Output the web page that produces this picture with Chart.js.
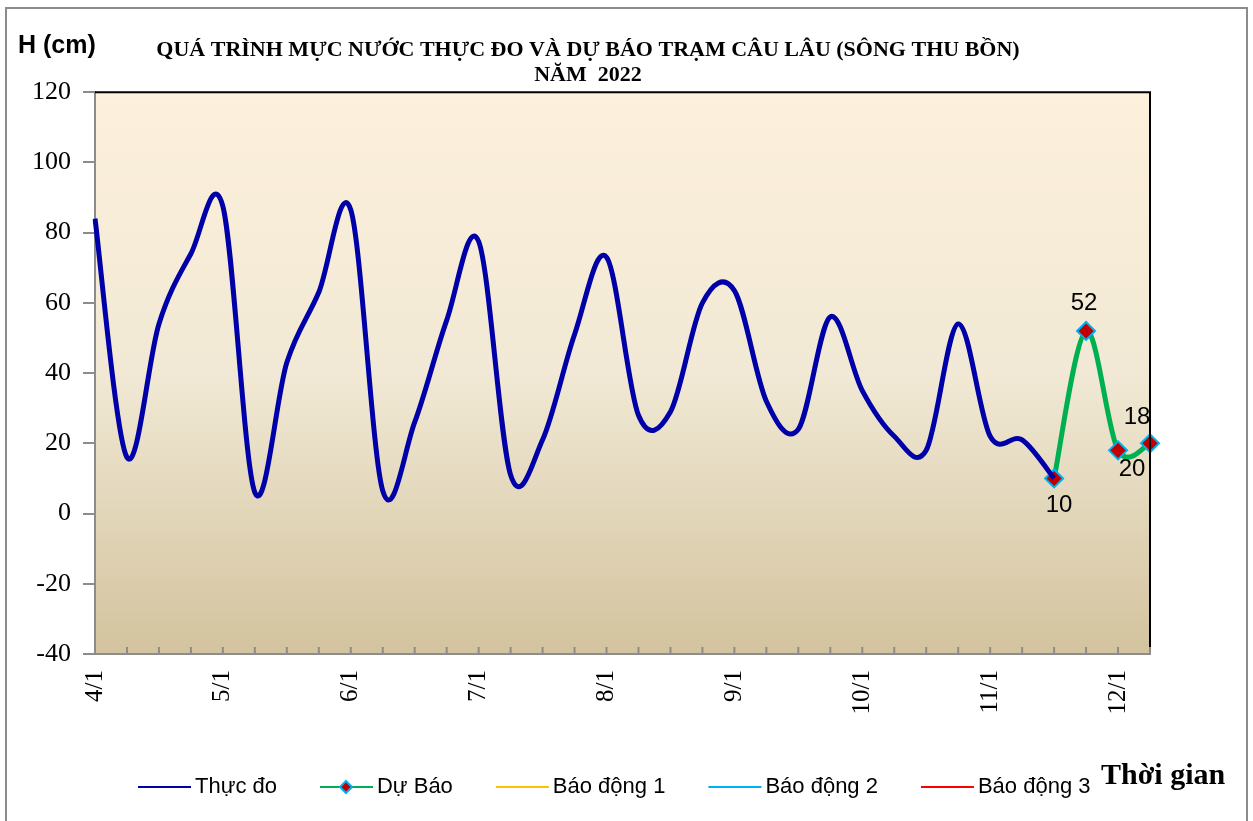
<!DOCTYPE html>
<html>
<head>
<meta charset="utf-8">
<script src="https://cdn.jsdelivr.net/npm/chart.js@4.4.1/dist/chart.umd.min.js"></script>
<style>
  html, body { margin: 0; padding: 0; background: #fff; }
  #wrap { width: 1253px; height: 821px; }
</style>
</head>
<body>
<div id="wrap"><canvas id="chart" width="1253" height="821"></canvas></div>
<script>
// nhan thang tren truc hoanh, 4 diem mot nhan
var monthLabels = ['4/1', '5/1', '6/1', '7/1', '8/1', '9/1', '10/1', '11/1', '12/1'];

// muc nuoc thuc do (cm)
var observed = [84, 16, 54, 74, 87.5, 6, 43, 63, 86.5, 6.5, 26, 55, 77.5, 11, 21, 51,
                73, 28, 29, 60, 63.5, 32, 24, 56, 35, 22, 18, 54, 22, 21, 10];

// du bao, bat dau tu diem thuc do cuoi
var forecast = [10, 52, 18, 20];

// muc bao dong (cm) - nam ngoai khung truc
var alarm1 = 200, alarm2 = 300, alarm3 = 400;

var yMin = -40, yMax = 120, yStep = 20;

var seriesNames = ['Thực đo', 'Dự Báo', 'Báo động 1', 'Báo động 2', 'Báo động 3'];
var seriesColors = ['#0000A8', '#00B050', '#FFC000', '#00B0F0', '#FF0000'];

var nPoints = observed.length + forecast.length - 1;
var categories = [];
for (var i = 0; i < nPoints; i++) {
  categories.push(i % 4 === 0 ? monthLabels[i / 4] : '');
}
var observedSeries = observed.slice();
var forecastSeries = [];
for (var i = 0; i < nPoints; i++) {
  var k = i - (observed.length - 1);
  forecastSeries.push(k >= 0 ? forecast[k] : null);
}
function flat(v) { return categories.map(function () { return v; }); }

// vi tri nhan so du bao (so voi diem)
var labelOffsets = [[5, 27], [-2, -28], [19, -33], [-18, 26]];

// lam tron kieu Excel (Catmull-Rom deu)
var excelSmooth = {
  id: 'excelSmooth',
  beforeDatasetDraw: function (chart, args) {
    if (args.index > 1) return;
    var meta = args.meta;
    var line = meta.dataset;
    line.updateControlPoints(chart.chartArea, meta.iScale.axis);
    var pts = line.points.filter(function (p) { return !p.skip; });
    for (var i = 0; i < pts.length; i++) {
      var p = pts[i], a = pts[i - 1] || p, b = pts[i + 1] || p;
      var dx = (b.x - a.x) / 6, dy = (b.y - a.y) / 6;
      p.cp1x = p.x - dx; p.cp1y = p.y - dy;
      p.cp2x = p.x + dx; p.cp2y = p.y + dy;
    }
    line._path = undefined;
  }
};

var decor = {
  id: 'decor',
  beforeDraw: function (chart) {
    var ctx = chart.ctx, a = chart.chartArea;
    ctx.save();
    ctx.fillStyle = '#fff';
    ctx.fillRect(0, 0, chart.width, chart.height);
    ctx.strokeStyle = '#8c8c8c';
    ctx.lineWidth = 2;
    ctx.strokeRect(6, 8, 1241, 830);
    var g = ctx.createLinearGradient(0, a.top, 0, a.bottom);
    g.addColorStop(0, '#FDF0DC');
    g.addColorStop(0.5, '#F1E9D5');
    g.addColorStop(1, '#D3C39E');
    ctx.fillStyle = g;
    ctx.fillRect(a.left, a.top, a.right - a.left, a.bottom - a.top);
    ctx.restore();
  },
  afterDatasetsDraw: function (chart) {
    var ctx = chart.ctx;
    var meta = chart.getDatasetMeta(1);
    var start = observed.length - 1;
    ctx.save();
    ctx.fillStyle = '#000';
    ctx.font = '24px "Liberation Sans", Arial, sans-serif';
    ctx.textAlign = 'center';
    ctx.textBaseline = 'middle';
    forecast.forEach(function (v, j) {
      var p = meta.data[start + j];
      ctx.fillText(String(v), p.x + labelOffsets[j][0], p.y + labelOffsets[j][1]);
    });
    ctx.restore();
  },
  afterDraw: function (chart) {
    var ctx = chart.ctx, a = chart.chartArea;
    var xs = chart.scales.x;
    ctx.save();
    // khung tren va phai
    ctx.strokeStyle = '#000';
    ctx.lineWidth = 2;
    ctx.beginPath();
    ctx.moveTo(a.left, a.top);
    ctx.lineTo(a.right, a.top);
    ctx.lineTo(a.right, a.bottom);
    ctx.stroke();
    // vach chia truc hoanh (huong vao trong)
    ctx.strokeStyle = '#8c8c8c';
    ctx.lineWidth = 2;
    for (var i = 0; i < categories.length; i++) {
      var x = xs.getPixelForValue(i);
      ctx.beginPath();
      ctx.moveTo(x, a.bottom);
      ctx.lineTo(x, a.bottom - 7);
      ctx.stroke();
    }
    // duong mau trong chu giai
    var boxes = chart.legend.legendHitBoxes;
    boxes.forEach(function (b, j) {
      var cy = b.top + b.height / 2;
      ctx.strokeStyle = seriesColors[j];
      ctx.lineWidth = 2;
      ctx.beginPath();
      ctx.moveTo(b.left, cy);
      ctx.lineTo(b.left + 53, cy);
      ctx.stroke();
      if (j === 1) {
        var cx = b.left + 26;
        ctx.beginPath();
        ctx.moveTo(cx, cy - 6);
        ctx.lineTo(cx + 6, cy);
        ctx.lineTo(cx, cy + 6);
        ctx.lineTo(cx - 6, cy);
        ctx.closePath();
        ctx.fillStyle = '#C00000';
        ctx.fill();
        ctx.strokeStyle = '#00B0F0';
        ctx.lineWidth = 2;
        ctx.stroke();
      }
    });
    // nhan truc
    ctx.fillStyle = '#000';
    ctx.textBaseline = 'middle';
    ctx.textAlign = 'left';
    ctx.font = 'bold 25px "Liberation Sans", Arial, sans-serif';
    ctx.fillText('H (cm)', 18, 46);
    ctx.textBaseline = 'alphabetic';
    ctx.font = 'bold 30px "Liberation Serif", "Times New Roman", serif';
    ctx.fillText('Thời gian', 1101, 784);
    ctx.restore();
  }
};

new Chart(document.getElementById('chart'), {
  type: 'line',
  data: {
    labels: categories,
    datasets: [
      { label: seriesNames[0], data: observedSeries, borderColor: seriesColors[0], borderWidth: 5,
        pointRadius: 0, tension: 0.4, fill: false },
      { label: seriesNames[1], data: forecastSeries, borderColor: seriesColors[1], borderWidth: 5,
        pointStyle: 'rectRot', pointRadius: 9, pointBackgroundColor: '#C00000',
        pointBorderColor: '#00B0F0', pointBorderWidth: 2, tension: 0.4, fill: false },
      { label: seriesNames[2], data: flat(alarm1), borderColor: seriesColors[2], borderWidth: 2, pointRadius: 0 },
      { label: seriesNames[3], data: flat(alarm2), borderColor: seriesColors[3], borderWidth: 2, pointRadius: 0 },
      { label: seriesNames[4], data: flat(alarm3), borderColor: seriesColors[4], borderWidth: 2, pointRadius: 0 }
    ]
  },
  options: {
    responsive: false,
    animation: false,
    layout: { padding: { left: 0, right: 77, top: 0, bottom: 13 } },
    plugins: {
      tooltip: { enabled: false },
      title: {
        display: true,
        text: ['QUÁ TRÌNH MỰC NƯỚC THỰC ĐO VÀ DỰ BÁO TRẠM CÂU LÂU (SÔNG THU BỒN)', 'NĂM  2022'],
        color: '#000',
        font: { family: '"Liberation Serif", "Times New Roman", serif', size: 22, weight: 'bold', lineHeight: 1.14 },
        padding: { top: 38, bottom: 4 }
      },
      legend: {
        position: 'bottom',
        align: 'start',
        fullSize: false,
        labels: {
          boxWidth: 46,
          boxHeight: 22,
          padding: 43,
          color: '#000',
          font: { family: '"Liberation Sans", Arial, sans-serif', size: 22 },
          generateLabels: function (chart) {
            return chart.data.datasets.map(function (ds, i) {
              return { text: ds.label, fillStyle: 'rgba(0,0,0,0)', strokeStyle: 'rgba(0,0,0,0)',
                       lineWidth: 0, datasetIndex: i, hidden: false };
            });
          }
        }
      }
    },
    scales: {
      x: {
        offset: false,
        ticks: {
          autoSkip: false, maxRotation: 90, minRotation: 90, color: '#000', padding: 16,
          font: { family: '"Liberation Serif", "Times New Roman", serif', size: 25 }
        },
        grid: { display: true, drawOnChartArea: false, drawTicks: false },
        border: { color: '#8c8c8c', width: 2 },
        afterFit: function (s) { s.height = 79; }
      },
      y: {
        min: yMin, max: yMax,
        ticks: {
          stepSize: yStep, color: '#000', padding: 12,
          font: { family: '"Liberation Serif", "Times New Roman", serif', size: 26 }
        },
        grid: { drawOnChartArea: false, tickLength: 12, color: '#8c8c8c', lineWidth: 2 },
        border: { color: '#8c8c8c', width: 2 },
        afterFit: function (s) { s.width = 95; }
      },
      y2: {
        position: 'right',
        display: true,
        ticks: { display: false },
        grid: { display: false },
        border: { display: false },
        afterFit: function (s) { s.width = 26; }
      }
    }
  },
  plugins: [excelSmooth, decor]
});
</script>
</body>
</html>
